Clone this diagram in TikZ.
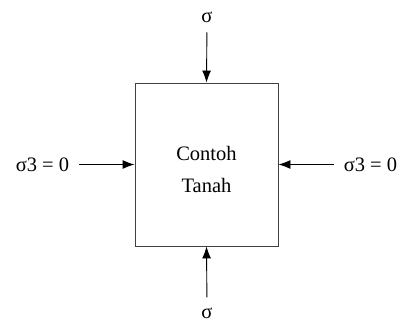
\documentclass[tikz,border=0pt]{standalone}
\usepackage{fontspec}
\setmainfont{Liberation Serif}
\usetikzlibrary{arrows.meta}
\begin{document}
\begin{tikzpicture}[x=1pt, y=-1pt,
    load/.style={-{Latex[length=12pt,width=9pt]}, line width=0.9pt, shorten <=10pt},
    sample/.style={draw=black!75, line width=0.9pt, minimum width=143pt, minimum height=163pt, inner sep=0pt},
    lbl/.style={inner sep=0pt, anchor=base},
    every node/.style={font=\fontsize{20.5}{32}\selectfont}
]
    \useasboundingbox (0,0) rectangle (400,322);

    % soil sample
    \node[sample] (box) at (206.5,164.5) {};
    \node[align=center, inner sep=0pt] (txt) at (206.5,169) {Contoh\\Tanah};

    % stresses
    \node[lbl] (stop) at (207,22) {σ};
    \node[lbl] (sbot) at (207,318) {σ};
    \node[lbl] (sleft) at (42.5,171) {σ3 = 0};
    \node[lbl] (sright) at (370.5,171) {σ3 = 0};

    \draw[load] (stop.south) -- (box.north);
    \draw[load] (sbot.north) -- (box.south);
    \draw[load] (sleft.east |- box.west) -- (box.west);
    \draw[load] (sright.west |- box.east) -- (box.east);
\end{tikzpicture}
\end{document}
